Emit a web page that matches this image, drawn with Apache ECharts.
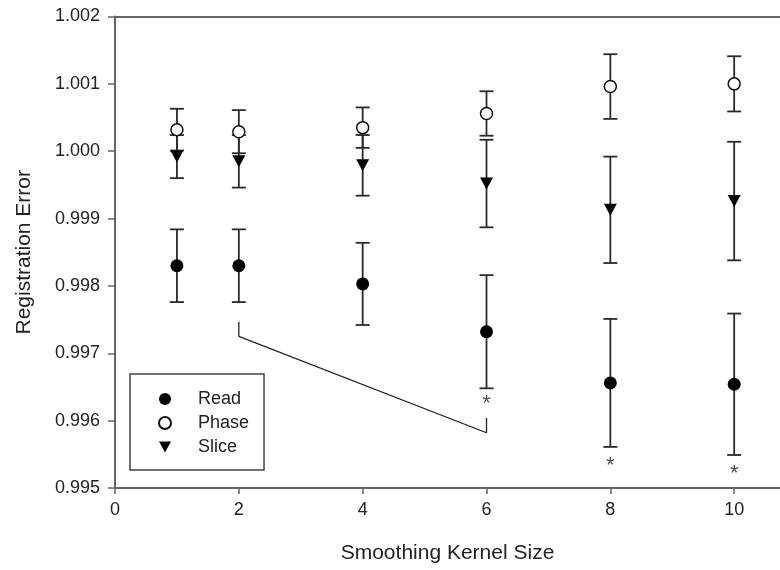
<!DOCTYPE html>
<html lang="en">
<head>
    <meta charset="UTF-8">
    <title>Registration Error</title>
    <script src="https://cdn.jsdelivr.net/npm/echarts@6/dist/echarts.min.js"></script>
    <style>
        body { margin: 0; background: #fff; }
    </style>
</head>
<body>
<div id="my" style="width: 780px;height: 570px;"></div>
<script>
    // values (mean +/- error)
    var kernel = [1, 2, 4, 6, 8, 10]
    var readMean = [0.99830, 0.99830, 0.99803, 0.99732, 0.99656, 0.99654]
    var readErr = [0.00054, 0.00054, 0.00061, 0.00084, 0.00095, 0.00105]
    var phaseMean = [1.00032, 1.00029, 1.00035, 1.00056, 1.00096, 1.00100]
    var phaseErr = [0.00031, 0.00032, 0.00030, 0.00033, 0.00048, 0.00041]
    var sliceMean = [0.99992, 0.99985, 0.99979, 0.99952, 0.99913, 0.99926]
    var sliceErr = [0.00032, 0.00039, 0.00045, 0.00065, 0.00079, 0.00088]

    var xTicks = [0, 2, 4, 6, 8, 10]

    // significance marks and the bracket between kernel 2 and 6
    var starX = [6, 8, 10]
    var starY = [0.99631, 0.99539, 0.99527]
    var bracketX = [2, 2, 6, 6]
    var bracketY = [0.99747, 0.99725, 0.99582, 0.99604]

    var font = 'Liberation Sans, Arial, sans-serif'
    var lineCol = '#2a2a2a'
    var triDown = 'path://M0,0 L12,0 L6,11 Z'

    function pts(xs, ys) {
        return xs.map(function (x, i) { return [x, ys[i]] })
    }
    function errData(means, errs) {
        return kernel.map(function (x, i) { return [x, means[i] - errs[i], means[i] + errs[i]] })
    }
    function errBars(means, errs) {
        return {
            type: 'custom',
            data: errData(means, errs),
            z: 1,
            silent: true,
            renderItem: function (params, api) {
                var lo = api.coord([api.value(0), api.value(1)])
                var hi = api.coord([api.value(0), api.value(2)])
                var w = 7
                var st = { stroke: lineCol, lineWidth: 1.8 }
                return {
                    type: 'group',
                    children: [
                        { type: 'line', shape: { x1: lo[0], y1: lo[1], x2: hi[0], y2: hi[1] }, style: st },
                        { type: 'line', shape: { x1: lo[0] - w, y1: lo[1], x2: lo[0] + w, y2: lo[1] }, style: st },
                        { type: 'line', shape: { x1: hi[0] - w, y1: hi[1], x2: hi[0] + w, y2: hi[1] }, style: st }
                    ]
                }
            }
        }
    }

    var mCharts = echarts.init(document.getElementById('my'))
    var option = {
        backgroundColor: '#fff',
        animation: false,
        textStyle: { fontFamily: font },
        grid: { left: 115, top: 16.5, right: 0, height: 471.5 },
        legend: {
            orient: 'vertical',
            left: 130,
            top: 374,
            padding: [16, 15, 14, 28],
            itemWidth: 12,
            itemHeight: 12,
            itemGap: 6,
            borderColor: '#444',
            borderWidth: 1.5,
            borderRadius: 0,
            data: ['Read', 'Phase', 'Slice'],
            textStyle: { fontSize: 18, color: '#222', fontFamily: font, padding: [0, 0, 0, 22] }
        },
        xAxis: [{
            type: 'value',
            min: 0,
            max: 10.74,
            name: 'Smoothing Kernel Size',
            nameLocation: 'middle',
            nameGap: 55,
            nameTextStyle: { fontSize: 21, color: '#222', fontFamily: font },
            splitLine: { show: false },
            axisLine: { onZero: false, lineStyle: { color: '#666', width: 2 } },
            axisTick: { length: 6, customValues: xTicks, lineStyle: { color: '#666', width: 1.5 } },
            axisLabel: { fontSize: 18, color: '#222', margin: 13, customValues: xTicks }
        }, {
            type: 'value',
            position: 'top',
            min: 0,
            max: 10.74,
            splitLine: { show: false },
            axisLine: { onZero: false, lineStyle: { color: '#666', width: 2 } },
            axisTick: { show: false },
            axisLabel: { show: false }
        }],
        yAxis: {
            type: 'value',
            min: 0.995,
            max: 1.002,
            interval: 0.001,
            name: 'Registration Error',
            nameLocation: 'middle',
            nameGap: 80,
            nameTextStyle: { fontSize: 21, color: '#222', fontFamily: font },
            splitLine: { show: false },
            axisLine: { show: true, onZero: false, lineStyle: { color: '#666', width: 2 } },
            axisTick: { show: true, length: 7, lineStyle: { color: '#666', width: 1.5 } },
            axisLabel: {
                fontSize: 18, color: '#222', margin: 15,
                formatter: function (v) { return v.toFixed(3) }
            }
        },
        series: [
            errBars(readMean, readErr),
            errBars(phaseMean, phaseErr),
            errBars(sliceMean, sliceErr),
            {
                name: 'Read',
                type: 'scatter',
                symbol: 'circle',
                symbolSize: 13,
                z: 3,
                itemStyle: { color: '#000', opacity: 1 },
                data: pts(kernel, readMean)
            },
            {
                name: 'Phase',
                type: 'scatter',
                symbol: 'circle',
                symbolSize: 12,
                z: 3,
                itemStyle: { color: '#fff', borderColor: '#111', borderWidth: 1.5, opacity: 1 },
                data: pts(kernel, phaseMean)
            },
            {
                name: 'Slice',
                type: 'scatter',
                symbol: triDown,
                symbolSize: [13, 12],
                z: 3,
                itemStyle: { color: '#000', opacity: 1 },
                data: pts(kernel, sliceMean)
            },
            {
                type: 'line',
                data: pts(bracketX, bracketY),
                symbol: 'none',
                silent: true,
                z: 2,
                lineStyle: { color: '#222', width: 1.3 }
            },
            {
                type: 'scatter',
                data: pts(starX, starY),
                symbolSize: 0,
                silent: true,
                z: 2,
                label: {
                    show: true,
                    position: 'inside',
                    formatter: '*',
                    fontSize: 22,
                    color: '#222',
                    fontFamily: font,
                    offset: [0, 4]
                }
            }
        ]
    }
    mCharts.setOption(option)
</script>
</body>
</html>
